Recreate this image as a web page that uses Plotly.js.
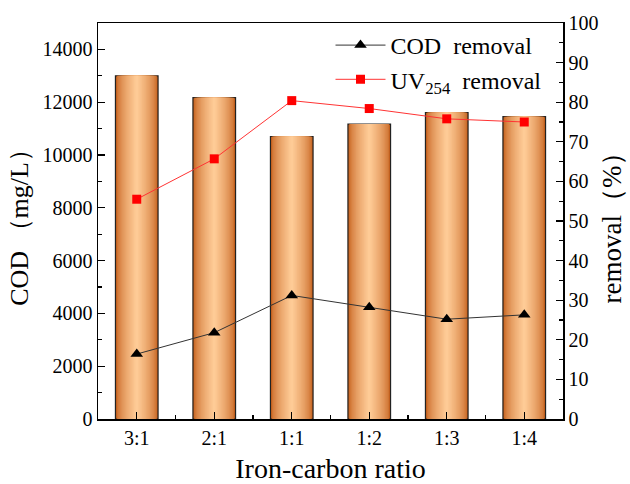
<!DOCTYPE html>
<html>
<head>
<meta charset="utf-8">
<script src="https://cdn.plot.ly/plotly-3.0.1.min.js"></script>
<style>html,body{margin:0;padding:0;background:#fff;}#chart{width:630px;height:484px;}</style>
</head>
<body>
<div id="chart"></div>
<script>
// ---- data ----
const categories = ["3:1", "2:1", "1:1", "1:2", "1:3", "1:4"];
const codValues = [13000, 12170, 10700, 11170, 11610, 11450];      // COD (mg/L), left axis
const codRemoval = [16.4, 21.8, 31.2, 28.2, 25.2, 26.3];          // %, right axis
const uvRemoval = [55.5, 65.7, 80.4, 78.4, 75.8, 75.0];           // %, right axis
const leftTicks = [0, 2000, 4000, 6000, 8000, 10000, 12000, 14000];
const rightTicks = [0, 10, 20, 30, 40, 50, 60, 70, 80, 90, 100];

const xIdx = categories.map((c, i) => i);
const FONT = "Liberation Serif, Times New Roman, serif";

// gradient simulation for bars: overlaid bars of decreasing width
const N = 16;
const dark = [196, 94, 26], light = [254, 203, 150];
const traces = [];
for (let i = 0; i < N; i++) {
  const t = i / (N - 1);
  const e = Math.pow(t, 0.6);
  const col = dark.map((d, k) => Math.round(d + (light[k] - d) * e));
  traces.push({
    type: "bar",
    x: xIdx,
    y: codValues,
    width: 0.55 * (1 - i / N),
    marker: {
      color: `rgb(${col[0]},${col[1]},${col[2]})`,
      line: i === 0 ? {color: "#222", width: 1.2} : {width: 0}
    },
    showlegend: false,
    hoverinfo: "skip",
    yaxis: "y"
  });
}

traces.push({
  type: "scatter",
  mode: "lines+markers",
  name: "COD&nbsp; removal",
  x: xIdx,
  y: codRemoval,
  yaxis: "y2",
  line: {color: "#333", width: 1},
  marker: {symbol: "triangle-up", size: 11, color: "#000"}
});
traces.push({
  type: "scatter",
  mode: "lines+markers",
  name: "UV<sub>254</sub>&nbsp; removal",
  x: xIdx,
  y: uvRemoval,
  yaxis: "y2",
  line: {color: "#ff3333", width: 1},
  marker: {symbol: "square", size: 9, color: "#ff0000"}
});

const layout = {
  width: 630,
  height: 484,
  margin: {l: 98, r: 67, t: 23, b: 65},
  paper_bgcolor: "#fff",
  plot_bgcolor: "#fff",
  barmode: "overlay",
  font: {family: FONT, color: "#000", size: 19},
  showlegend: true,
  legend: {
    x: 0.5, y: 1.0, xanchor: "left", yanchor: "top",
    bgcolor: "rgba(0,0,0,0)",
    font: {family: FONT, size: 24, color: "#000"},
    itemwidth: 50,
    tracegroupgap: 0
  },
  xaxis: {
    range: [-0.5, 5.5],
    tickvals: xIdx,
    ticktext: categories,
    ticks: "inside",
    ticklen: 7,
    tickwidth: 1.2,
    tickcolor: "#000",
    minor: {tick0: 0.5, dtick: 1, ticks: "inside", ticklen: 4, tickwidth: 1.2, tickcolor: "#000"},
    showline: true,
    linecolor: "#000",
    linewidth: 1.5,
    mirror: true,
    showgrid: false,
    zeroline: false,
    tickfont: {family: FONT, size: 20},
    title: {text: "Iron-carbon ratio", font: {family: FONT, size: 28}, standoff: 16}
  },
  yaxis: {
    range: [0, 15000],
    tickvals: leftTicks,
    tickformat: "d",
    ticks: "inside",
    ticklen: 7,
    tickwidth: 1.2,
    tickcolor: "#000",
    minor: {dtick: 1000, ticks: "inside", ticklen: 4, tickwidth: 1.2, tickcolor: "#000"},
    showline: true,
    linecolor: "#000",
    linewidth: 1.5,
    showgrid: false,
    zeroline: false,
    tickfont: {family: FONT, size: 20},
    title: {text: "COD （mg/L）", font: {family: FONT, size: 26}, standoff: 6}
  },
  yaxis2: {
    overlaying: "y",
    side: "right",
    range: [0, 100],
    tickvals: rightTicks,
    ticks: "inside",
    ticklen: 7,
    tickwidth: 1.2,
    tickcolor: "#000",
    minor: {dtick: 5, ticks: "inside", ticklen: 4, tickwidth: 1.2, tickcolor: "#000"},
    showline: true,
    linecolor: "#000",
    linewidth: 1.5,
    showgrid: false,
    zeroline: false,
    tickfont: {family: FONT, size: 20},
    title: {text: "removal（%）", font: {family: FONT, size: 27}, standoff: 4}
  }
};

Plotly.newPlot("chart", traces, layout, {displayModeBar: false, staticPlot: true});
</script>
</body>
</html>
